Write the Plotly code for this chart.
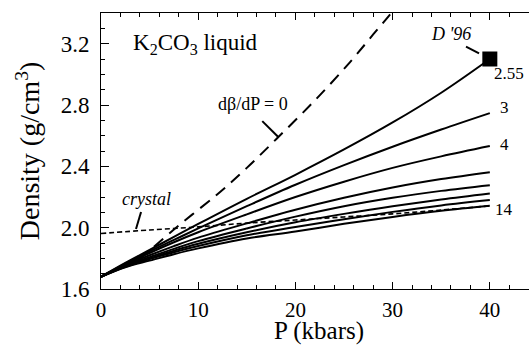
import plotly.graph_objects as go

# ---- data ----
P = [0, 2.5, 5, 7.5, 10, 15, 20, 25, 30, 35, 40]
rho_255 = [1.68, 1.77, 1.855, 1.94, 2.024, 2.188, 2.345, 2.51, 2.686, 2.88, 3.10]
rho_3 = [1.68, 1.765, 1.845, 1.92, 1.995, 2.14, 2.28, 2.408, 2.528, 2.64, 2.747]
rho_4 = [1.68, 1.76, 1.835, 1.905, 1.97, 2.087, 2.20, 2.30, 2.39, 2.465, 2.532]
rho_5 = [1.68, 1.755, 1.82, 1.88, 1.935, 2.028, 2.117, 2.195, 2.262, 2.317, 2.362]
rho_6 = [1.68, 1.75, 1.808, 1.862, 1.912, 1.995, 2.072, 2.14, 2.195, 2.24, 2.277]
rho_7 = [1.68, 1.748, 1.80, 1.85, 1.895, 1.97, 2.035, 2.09, 2.14, 2.184, 2.223]
rho_8 = [1.68, 1.745, 1.795, 1.84, 1.88, 1.95, 2.005, 2.055, 2.103, 2.145, 2.18]
rho_14 = [1.68, 1.742, 1.785, 1.827, 1.865, 1.93, 1.975, 2.025, 2.07, 2.11, 2.143]
liquid_curves = [rho_255, rho_3, rho_4, rho_5, rho_6, rho_7, rho_8, rho_14]

P_crystal = [0, 5, 10, 15, 20, 25, 30, 35, 40]
rho_crystal = [1.962, 1.985, 2.005, 2.03, 2.05, 2.07, 2.09, 2.115, 2.142]

P_dbdp = [2.0, 3, 4, 8, 12.07, 15, 18.07, 22, 25.6, 28, 29.6, 30.5]
rho_dbdp = [1.745, 1.76, 1.80, 2.015, 2.223, 2.39, 2.58, 2.83, 3.078, 3.26, 3.38, 3.45]

P_D96 = [40]
rho_D96 = [3.10]

curve_labels = ["2.55", "3", "4", "14"]
x_ticks = [0, 10, 20, 30, 40]
y_ticks = [1.6, 2.0, 2.4, 2.8, 3.2]

FONT = "Liberation Serif"

fig = go.Figure()
for rho in liquid_curves:
    fig.add_trace(go.Scatter(x=P, y=rho, mode="lines",
                             line=dict(color="black", width=2, shape="spline")))
fig.add_trace(go.Scatter(x=P_crystal, y=rho_crystal, mode="lines",
                         line=dict(color="black", width=1.6, dash="5px,3px", shape="spline")))
fig.add_trace(go.Scatter(x=P_dbdp, y=rho_dbdp, mode="lines",
                         line=dict(color="black", width=2, dash="12px,8px", shape="spline")))
fig.add_trace(go.Scatter(x=P_D96, y=rho_D96, mode="markers",
                         marker=dict(symbol="square", size=15, color="black")))

ann = []
# curve end labels
for txt, (xx, yy) in zip(curve_labels, [(41.97, 3.005), (41.5, 2.784), (41.5, 2.543), (41.5, 2.121)]):
    ann.append(dict(x=xx, y=yy, text=txt, xanchor="center", yanchor="middle",
                    showarrow=False, font=dict(family=FONT, size=17, color="black")))
ann.append(dict(x=36.0, y=3.264, text="<i>D '96</i>", showarrow=False,
                font=dict(family=FONT, size=18, color="black")))
ann.append(dict(x=15.59, y=2.806, text="dβ/dP = 0", showarrow=False,
                font=dict(family=FONT, size=18, color="black")))
ann.append(dict(x=4.68, y=2.19, text="<i>crystal</i>", showarrow=False,
                font=dict(family=FONT, size=18, color="black")))
ann.append(dict(x=3.1, y=3.20, text="K<sub>2</sub>CO<sub>3</sub> liquid", xanchor="left",
                showarrow=False, font=dict(family=FONT, size=23, color="black")))
# x-axis title placed below the tick labels
ann.append(dict(x=0.509, y=-0.2086, xref="paper", yref="paper", text="P (kbars)",
                xanchor="center", yanchor="bottom", showarrow=False,
                font=dict(family=FONT, size=25, color="black")))

shapes = [
    dict(type="line", x0=37.55, y0=3.18, x1=38.89, y1=3.136, line=dict(color="black", width=2)),
    dict(type="line", x0=16.59, y0=2.695, x1=18.24, y1=2.591, line=dict(color="black", width=2)),
    dict(type="line", x0=4.12, y0=2.102, x1=3.6, y1=1.991, line=dict(color="black", width=2)),
]

fig.update_layout(
    width=529, height=347,
    margin=dict(l=101, r=0, t=13, b=58),
    paper_bgcolor="white", plot_bgcolor="white",
    showlegend=False,
    annotations=ann, shapes=shapes,
    font=dict(family=FONT, color="black"),
)
fig.update_xaxes(
    range=[0, 44.03], tickvals=x_ticks, ticks="inside", ticklen=7, tickwidth=1,
    tickcolor="black", showline=True, linecolor="black", linewidth=1, mirror="ticks",
    showgrid=False, zeroline=False, ticklabelstandoff=2, automargin=False,
    tickfont=dict(family=FONT, size=21, color="black"),
    minor=dict(dtick=2, tick0=0, ticks="inside", ticklen=4, tickcolor="black", showgrid=False),
)
fig.update_yaxes(
    range=[1.6, 3.4], tickvals=y_ticks, tickformat=".1f", ticks="inside", ticklen=8, tickwidth=1,
    tickcolor="black", showline=True, linecolor="black", linewidth=1, mirror=False,
    showgrid=False, zeroline=False, ticklabelstandoff=6, automargin=False,
    tickfont=dict(family=FONT, size=23, color="black"),
    minor=dict(dtick=0.1, tick0=1.6, ticks="inside", ticklen=4, tickcolor="black", showgrid=False),
    title=dict(text="Density (g/cm<sup>3</sup>)", font=dict(family=FONT, size=28, color="black"), standoff=12),
)

fig.write_html("out.html")
